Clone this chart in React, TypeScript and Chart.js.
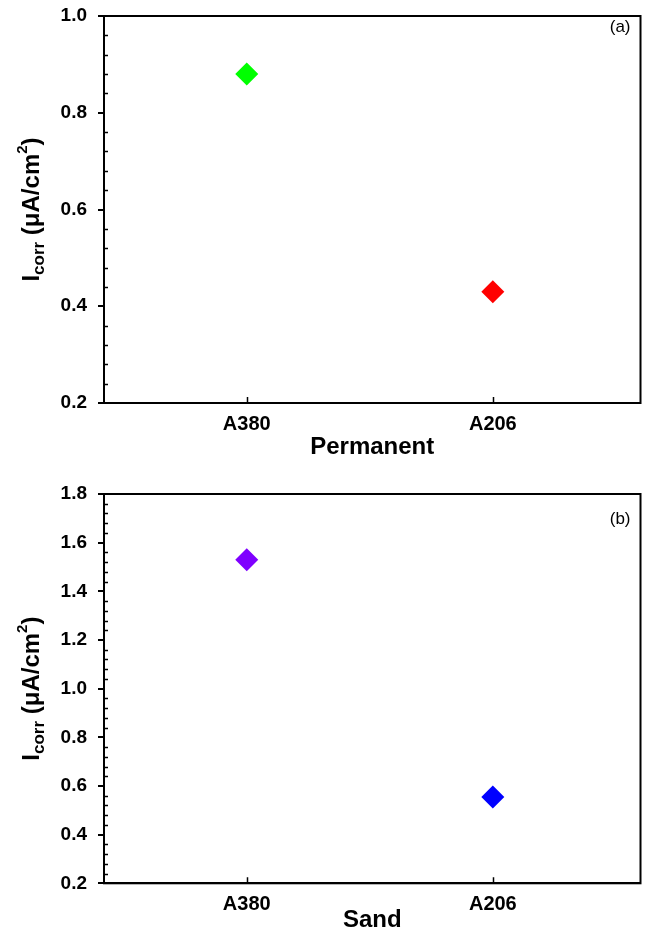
import React, { useEffect, useRef } from 'react';
import { Chart, registerables } from 'chart.js';

Chart.register(...registerables);

// ---- data ----
const categories: string[] = ['A380', 'A206'];
const categoryPositions: number[] = [1, 2];
const permanentIcorr: number[] = [0.88, 0.43];
const sandIcorr: number[] = [1.53, 0.555];
const permanentColors: string[] = ['#00ff00', '#ff0000'];
const sandColors: string[] = ['#7f00ff', '#0000ff'];
const permanentYTicks: number[] = [0.2, 0.4, 0.6, 0.8, 1.0];
const sandYTicks: number[] = [0.2, 0.4, 0.6, 0.8, 1.0, 1.2, 1.4, 1.6, 1.8];
const minorStep = 0.04;
const xRange: number[] = [0.42, 2.6];

const FONT = "'Liberation Sans', Arial, Helvetica, sans-serif";

type PanelCfg = {
  values: number[];
  colors: string[];
  yTicks: number[];
  xTitle: string;
  panelLabel: string;
  height: number;
  padTop: number;
  padRight: number;
  xAxisHeight: number;
  titlePadBottom: number;
  labelDy: number;
};

const panels: PanelCfg[] = [
  {
    values: permanentIcorr,
    colors: permanentColors,
    yTicks: permanentYTicks,
    xTitle: 'Permanent',
    panelLabel: '(a)',
    height: 464,
    padTop: 16,
    padRight: 9,
    xAxisHeight: 61,
    titlePadBottom: 9.8,
    labelDy: 11,
  },
  {
    values: sandIcorr,
    colors: sandColors,
    yTicks: sandYTicks,
    xTitle: 'Sand',
    panelLabel: '(b)',
    height: 464,
    padTop: 30,
    padRight: 7,
    xAxisHeight: 44.7,
    titlePadBottom: 0.8,
    labelDy: 25,
  },
];

function makeDecorPlugin(cfg: PanelCfg) {
  return {
    id: 'decor',
    afterDraw(chart: any) {
      const ctx: CanvasRenderingContext2D = chart.ctx;
      const area = chart.chartArea;
      const y = chart.scales.y;
      const x = chart.scales.x;
      ctx.save();
      ctx.strokeStyle = '#000';
      ctx.fillStyle = '#000';
      // frame
      ctx.lineWidth = 2;
      ctx.strokeRect(area.left, area.top, area.right - area.left, area.bottom - area.top);
      // minor y ticks (inside)
      ctx.lineWidth = 1.5;
      const yMin = cfg.yTicks[0];
      const yMax = cfg.yTicks[cfg.yTicks.length - 1];
      const n = Math.round((yMax - yMin) / minorStep);
      const perMajor = Math.round(0.2 / minorStep);
      ctx.beginPath();
      for (let k = 1; k < n; k++) {
        if (k % perMajor === 0) continue;
        const py = Math.round(y.getPixelForValue(yMin + k * minorStep)) + 0.5;
        ctx.moveTo(area.left, py);
        ctx.lineTo(area.left + 4, py);
      }
      ctx.stroke();
      // x ticks (inside, upward)
      ctx.beginPath();
      categoryPositions.forEach((v) => {
        const px = Math.round(x.getPixelForValue(v)) + 0.5;
        ctx.moveTo(px, area.bottom);
        ctx.lineTo(px, area.bottom - 6);
      });
      ctx.stroke();
      // panel label
      ctx.font = `17px ${FONT}`;
      ctx.textAlign = 'right';
      ctx.textBaseline = 'middle';
      ctx.fillText(cfg.panelLabel, area.right - 10, area.top + cfg.labelDy);
      // y axis title with subscript / superscript
      const segs = [
        { t: 'I', s: 24, dy: 0 },
        { t: 'corr', s: 17, dy: 5 },
        { t: ' (\u03BCA/cm', s: 24, dy: 0 },
        { t: '2', s: 15, dy: -12 },
        { t: ')', s: 24, dy: 0 },
      ];
      let total = 0;
      const widths: number[] = [];
      segs.forEach((sg) => {
        ctx.font = `bold ${sg.s}px ${FONT}`;
        const w = ctx.measureText(sg.t).width;
        widths.push(w);
        total += w;
      });
      const cy = (area.top + area.bottom) / 2;
      ctx.translate(39, cy);
      ctx.rotate(-Math.PI / 2);
      ctx.textAlign = 'left';
      ctx.textBaseline = 'alphabetic';
      let u = -total / 2;
      segs.forEach((sg, i) => {
        ctx.font = `bold ${sg.s}px ${FONT}`;
        ctx.fillText(sg.t, u, sg.dy);
        u += widths[i];
      });
      ctx.restore();
    },
  };
}

function Panel({ cfg }: { cfg: PanelCfg }) {
  const ref = useRef<HTMLCanvasElement | null>(null);
  useEffect(() => {
    if (!ref.current) return;
    const yMin = cfg.yTicks[0];
    const yMax = cfg.yTicks[cfg.yTicks.length - 1];
    const chart = new Chart(ref.current, {
      type: 'scatter',
      data: {
        datasets: [
          {
            data: cfg.values.map((v, i) => ({ x: categoryPositions[i], y: v })),
            pointStyle: 'rectRot',
            pointRadius: 11.5,
            pointHoverRadius: 11.5,
            backgroundColor: cfg.colors,
            borderColor: cfg.colors,
            borderWidth: 0,
            showLine: false,
          },
        ],
      },
      options: {
        responsive: false,
        animation: false,
        events: [],
        layout: { padding: { top: cfg.padTop, right: cfg.padRight, left: 0, bottom: 0 } },
        plugins: { legend: { display: false }, tooltip: { enabled: false } },
        scales: {
          x: {
            type: 'linear',
            min: xRange[0],
            max: xRange[1],
            afterBuildTicks: (s: any) => {
              s.ticks = categoryPositions.map((v) => ({ value: v }));
            },
            afterFit: (s: any) => {
              s.height = cfg.xAxisHeight;
            },
            grid: { display: false, drawTicks: false },
            border: { display: true, color: '#000', width: 2 },
            ticks: {
              color: '#000',
              padding: 9.5,
              maxRotation: 0,
              autoSkip: false,
              font: { family: FONT, size: 20, weight: 'bold' },
              callback: (v: any) => {
                const i = categoryPositions.indexOf(Number(v));
                return i >= 0 ? categories[i] : '';
              },
            },
            title: {
              display: true,
              text: cfg.xTitle,
              color: '#000',
              font: { family: FONT, size: 24, weight: 'bold', lineHeight: 0.6 },
              padding: { top: 0, bottom: cfg.titlePadBottom },
            },
          },
          y: {
            type: 'linear',
            min: yMin,
            max: yMax,
            afterBuildTicks: (s: any) => {
              s.ticks = cfg.yTicks.map((v) => ({ value: v }));
            },
            afterFit: (s: any) => {
              s.width = 104;
              s.paddingTop = 0;
              s.paddingBottom = 0;
            },
            grid: {
              display: true,
              drawOnChartArea: false,
              drawTicks: true,
              tickLength: 6,
              color: '#000',
              lineWidth: 2,
            },
            border: { display: true, color: '#000', width: 2 },
            ticks: {
              color: '#000',
              padding: 11,
              font: { family: FONT, size: 19, weight: 'bold' },
              callback: (v: any) => Number(v).toFixed(1),
            },
          },
        },
      },
      plugins: [makeDecorPlugin(cfg)],
    } as any);
    return () => chart.destroy();
  }, [cfg]);
  return (
    <canvas
      ref={ref}
      width={652}
      height={cfg.height}
      style={{ display: 'block', width: 652, height: cfg.height }}
    />
  );
}

export default function App() {
  return (
    <div
      style={{
        position: 'absolute',
        left: 0,
        top: 0,
        width: 652,
        height: 928,
        background: '#fff',
        overflow: 'hidden',
      }}
    >
      {panels.map((p, i) => (
        <Panel key={i} cfg={p} />
      ))}
    </div>
  );
}
